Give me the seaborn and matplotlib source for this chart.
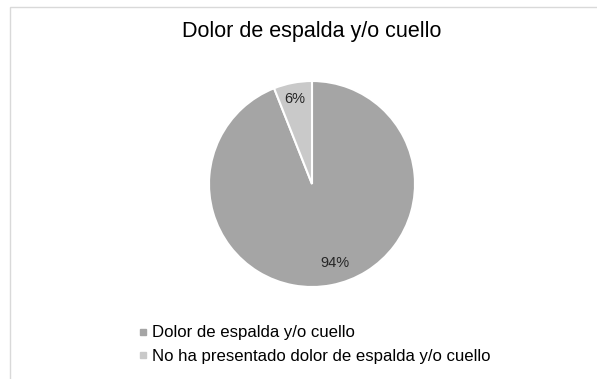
import matplotlib
matplotlib.use("Agg")
import matplotlib.pyplot as plt
import seaborn as sns
from matplotlib.patches import Rectangle
from matplotlib.lines import Line2D

categories = ["Dolor de espalda y/o cuello", "No ha presentado dolor de espalda y/o cuello"]
values = [94, 6]
labels_pct = ["94%", "6%"]
title = "Dolor de espalda y/o cuello"
colors = ["#A5A5A5", "#C9C9C9"]

sns.set_theme(style="white")
plt.rcParams['font.family'] = ['Liberation Sans', 'DejaVu Sans']

fig = plt.figure(figsize=(5.97, 3.79), dpi=100)
fig.patch.set_facecolor("white")

# frame of chart area
fig.patches.append(Rectangle((10/597, -0.1), 1.2, (379-7)/379 + 0.1, transform=fig.transFigure,
                             fill=False, edgecolor="#D9D9D9", linewidth=1.0))

ax = fig.add_axes([209/597, 1 - 287/379, 206/597, 206/379])
wedges, texts = ax.pie(values, colors=colors, startangle=90, counterclock=False,
                       wedgeprops=dict(edgecolor="white", linewidth=1.5))
ax.set_aspect("equal")
ax.set_xlim(-1, 1)
ax.set_ylim(-1, 1)
pos = [(0.22, -0.77), (-0.17, 0.83)]
for lbl, (x, y) in zip(labels_pct, pos):
    ax.text(x, y, lbl, ha="center", va="center", fontsize=10.5, color="#262626")

fig.text(312/597, 1 - 32/379, title, ha="center", va="center", fontsize=15.5, color="#000000")

handles = [Line2D([0], [0], marker="s", linestyle="none", markersize=4.5,
                  markerfacecolor=c, markeredgecolor=c) for c in colors]
fig.legend(handles, categories, loc="upper left", bbox_to_anchor=(130/597, 1 - 317/379),
           frameon=False, fontsize=12.1, handlelength=0.5, handletextpad=0.3,
           labelspacing=0.5, borderpad=0, labelcolor="#000000")

fig.savefig("out.png", dpi=100, facecolor="white")
